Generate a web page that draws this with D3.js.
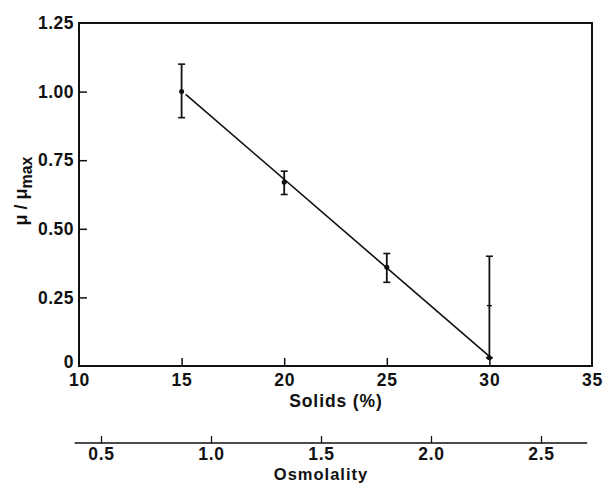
<!DOCTYPE html>
<html>
<head>
<meta charset="utf-8">
<script src="https://cdn.jsdelivr.net/npm/d3@7"></script>
<style>
  body { margin: 0; background: #fff; }
  text { font-family: "Liberation Sans", Arial, sans-serif; fill: #111; font-weight: bold; }
</style>
</head>
<body>
<svg id="chart" width="603" height="484"></svg>
<script>
// ---- data ----
const solids = [15, 20, 25, 30];
const meanValues = [1.00, 0.67, 0.36, 0.03];
const errLow = [0.905, 0.625, 0.305, 0.03];
const errHigh = [1.10, 0.71, 0.41, 0.40];
const extraMark = [null, null, null, 0.22];
const fitX = [15.2, 30];
const fitY = [0.99, 0.035];
const xTicks = [10, 15, 20, 25, 30, 35];
const yTicks = [0, 0.25, 0.5, 0.75, 1.0, 1.25];
const osmTicks = [0.5, 1.0, 1.5, 2.0, 2.5];
const osmExtent = [0.38, 2.71];

// ---- layout ----
const svg = d3.select("#chart");
const x = d3.scaleLinear().domain([10, 35]).range([79, 592]);
const y = d3.scaleLinear().domain([0, 1.25]).range([366, 23]);
const osm = d3.scaleLinear().domain([0.5, 2.5]).range([101, 541]);
const ink = "#111";
const fs = 17.5;

// frame
svg.append("rect")
  .attr("x", x(10)).attr("y", y(1.25))
  .attr("width", x(35) - x(10)).attr("height", y(0) - y(1.25))
  .attr("fill", "none").attr("stroke", ink).attr("stroke-width", 2);

// x axis
const xAxis = svg.append("g")
  .attr("transform", `translate(0,${y(0)})`)
  .call(d3.axisBottom(x).tickValues(xTicks).tickSize(-8).tickPadding(13).tickFormat(d3.format("d")));
xAxis.select(".domain").remove();
xAxis.selectAll(".tick line").attr("stroke", ink).attr("stroke-width", 1.5);
xAxis.selectAll(".tick text").attr("font-size", fs).attr("dy", "0.4em").attr("letter-spacing", "0.8px");
xAxis.selectAll(".tick").filter(d => d === 10 || d === 35).select("line").remove();

// y axis
const yAxis = svg.append("g")
  .attr("transform", `translate(${x(10)},0)`)
  .call(d3.axisLeft(y).tickValues(yTicks).tickSize(-8).tickPadding(5)
    .tickFormat(d => d === 0 ? "0" : d3.format(".2f")(d)));
yAxis.select(".domain").remove();
yAxis.selectAll(".tick line").attr("stroke", ink).attr("stroke-width", 1.5);
yAxis.selectAll(".tick text").attr("font-size", fs).attr("letter-spacing", "0.5px");
yAxis.selectAll(".tick").filter(d => d === 0 || d === 1.25).select("line").remove();
yAxis.selectAll(".tick").filter(d => d === 0).select("text").attr("dy", "0.1em");

// axis titles
svg.append("text")
  .attr("x", 336).attr("y", 407)
  .attr("text-anchor", "middle").attr("font-size", fs).attr("letter-spacing", "0.9px")
  .text("Solids (%)");

const yl = svg.append("text")
  .attr("transform", `translate(27,191) rotate(-90)`)
  .attr("text-anchor", "middle").attr("font-size", 18);
yl.append("tspan").text("μ / μ");
yl.append("tspan").attr("font-size", 16).attr("dy", 5).text("max");

// fit line
svg.append("line")
  .attr("x1", x(fitX[0])).attr("y1", y(fitY[0]))
  .attr("x2", x(fitX[1])).attr("y2", y(fitY[1]))
  .attr("stroke", ink).attr("stroke-width", 1.6);

// error bars
const pts = solids.map((s, i) => ({ s, m: meanValues[i], lo: errLow[i], hi: errHigh[i], ex: extraMark[i] }));
const eg = svg.append("g");
eg.selectAll(".bar").data(pts).enter().append("line")
  .attr("x1", d => x(d.s)).attr("x2", d => x(d.s))
  .attr("y1", d => y(d.lo)).attr("y2", d => y(d.hi))
  .attr("stroke", ink).attr("stroke-width", 1.8);
["lo", "hi"].forEach(k => {
  eg.selectAll(".cap" + k).data(pts).enter().append("line")
    .attr("x1", d => x(d.s) - 3.5).attr("x2", d => x(d.s) + 3.5)
    .attr("y1", d => y(d[k])).attr("y2", d => y(d[k]))
    .attr("stroke", ink).attr("stroke-width", 1.6);
});
eg.selectAll(".ex").data(pts.filter(d => d.ex !== null)).enter().append("line")
  .attr("x1", d => x(d.s) - 2.5).attr("x2", d => x(d.s) + 2.5)
  .attr("y1", d => y(d.ex)).attr("y2", d => y(d.ex))
  .attr("stroke", ink).attr("stroke-width", 1.4);
eg.selectAll(".pt").data(pts).enter().append("circle")
  .attr("cx", d => x(d.s)).attr("cy", d => y(d.m)).attr("r", 2.5)
  .attr("fill", ink);

// osmolality axis
const oy = 443;
svg.append("line")
  .attr("x1", osm(osmExtent[0])).attr("x2", osm(osmExtent[1]))
  .attr("y1", oy).attr("y2", oy)
  .attr("stroke", ink).attr("stroke-width", 1.6);
const oAxis = svg.append("g")
  .attr("transform", `translate(0,${oy})`)
  .call(d3.axisBottom(osm).tickValues(osmTicks).tickSize(-7).tickPadding(10).tickFormat(d3.format(".1f")));
oAxis.select(".domain").remove();
oAxis.selectAll(".tick line").attr("stroke", ink).attr("stroke-width", 1.3);
oAxis.selectAll(".tick text").attr("font-size", fs).attr("dy", "0.4em").attr("letter-spacing", "0.8px");

svg.append("text")
  .attr("x", 321).attr("y", 480)
  .attr("text-anchor", "middle").attr("font-size", 16.5).attr("letter-spacing", "1px")
  .text("Osmolality");
</script>
</body>
</html>
